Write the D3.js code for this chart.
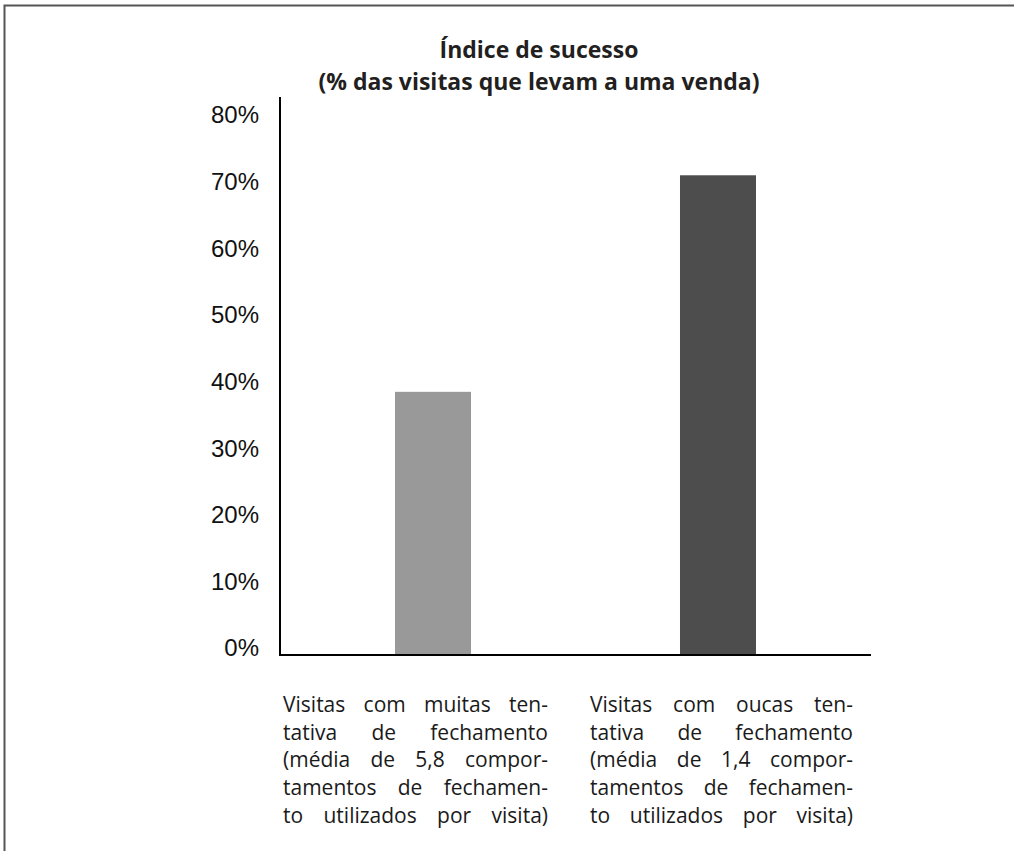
<!DOCTYPE html>
<html>
<head>
<meta charset="utf-8">
<script src="https://cdn.jsdelivr.net/npm/d3@7"></script>
<style>
  html, body { margin: 0; padding: 0; background: #fff; }
  svg { display: block; }
</style>
</head>
<body>
<svg id="chart" width="1014" height="851"></svg>
<script>
// data
const categories = [
  ['Visitas com muitas ten-', 'tativa de fechamento', '(média de 5,8 compor-', 'tamentos de fechamen-', 'to utilizados por visita)'],
  ['Visitas com oucas ten-', 'tativa de fechamento', '(média de 1,4 compor-', 'tamentos de fechamen-', 'to utilizados por visita)']
];
const values = [39.5, 72];
const barColors = ['#999999', '#4d4d4d'];
const tickValues = [0, 10, 20, 30, 40, 50, 60, 70, 80];
const titleLines = ['Índice de sucesso', '(% das visitas que levam a uma venda)'];

const svg = d3.select('#chart');

// outer frame (open to the right/bottom like the source crop)
svg.append('path')
  .attr('d', 'M4.5,851 V5.5 H1014')
  .attr('fill', 'none')
  .attr('stroke', '#555')
  .attr('stroke-width', 2);

const x0 = 280, x1 = 871, yBase = 655, yTop = 97;

const y = d3.scaleLinear().domain([0, 83.75]).range([yBase, yTop]);
const x = d3.scaleBand()
  .domain(d3.range(values.length))
  .range([x0, x1])
  .paddingInner(0.7333)
  .paddingOuter(0.4035);

// bars
svg.append('g').selectAll('rect')
  .data(values)
  .join('rect')
  .attr('x', (d, i) => x(i))
  .attr('width', x.bandwidth())
  .attr('y', d => y(d))
  .attr('height', d => yBase - y(d))
  .attr('fill', (d, i) => barColors[i]);

// axes lines
svg.append('line')
  .attr('x1', x0).attr('x2', x0)
  .attr('y1', yTop).attr('y2', yBase + 1)
  .attr('stroke', '#000').attr('stroke-width', 2);
svg.append('line')
  .attr('x1', x0 - 1).attr('x2', x1)
  .attr('y1', yBase).attr('y2', yBase)
  .attr('stroke', '#000').attr('stroke-width', 2);

// tick labels (sit a little above the tick value in the source)
svg.append('g').selectAll('text')
  .data(tickValues)
  .join('text')
  .attr('x', 259)
  .attr('y', d => y(d) - 7)
  .attr('dy', '0.35em')
  .attr('text-anchor', 'end')
  .attr('font-family', '"Liberation Sans", Arial, sans-serif')
  .attr('font-size', 24)
  .attr('fill', '#111')
  .text(d => d + '%');

// title
svg.append('g').selectAll('text')
  .data(titleLines)
  .join('text')
  .attr('x', 539)
  .attr('y', (d, i) => 58 + i * 32)
  .attr('text-anchor', 'middle')
  .attr('font-family', '"Open Sans", sans-serif')
  .attr('font-weight', 'bold')
  .attr('font-size', 23)
  .attr('fill', '#231f20')
  .text(d => d);

// justified category labels
const blocks = [[283, 548], [590, 853]];
categories.forEach((lines, ci) => {
  const [bx0, bx1] = blocks[ci];
  const g = svg.append('g');
  lines.forEach((line, li) => {
    const words = line.split(' ');
    const by = 712 + li * 27.7;
    const nodes = words.map(w => g.append('text')
      .attr('y', by)
      .attr('font-family', '"Open Sans", sans-serif')
      .attr('font-size', 21)
      .attr('fill', '#1a1a1a')
      .text(w));
    const widths = nodes.map(n => n.node().getComputedTextLength());
    const total = d3.sum(widths);
    const gap = words.length > 1 ? (bx1 - bx0 - total) / (words.length - 1) : 0;
    let cx = bx0;
    nodes.forEach((n, k) => {
      n.attr('x', cx);
      cx += widths[k] + gap;
    });
  });
});
</script>
</body>
</html>
